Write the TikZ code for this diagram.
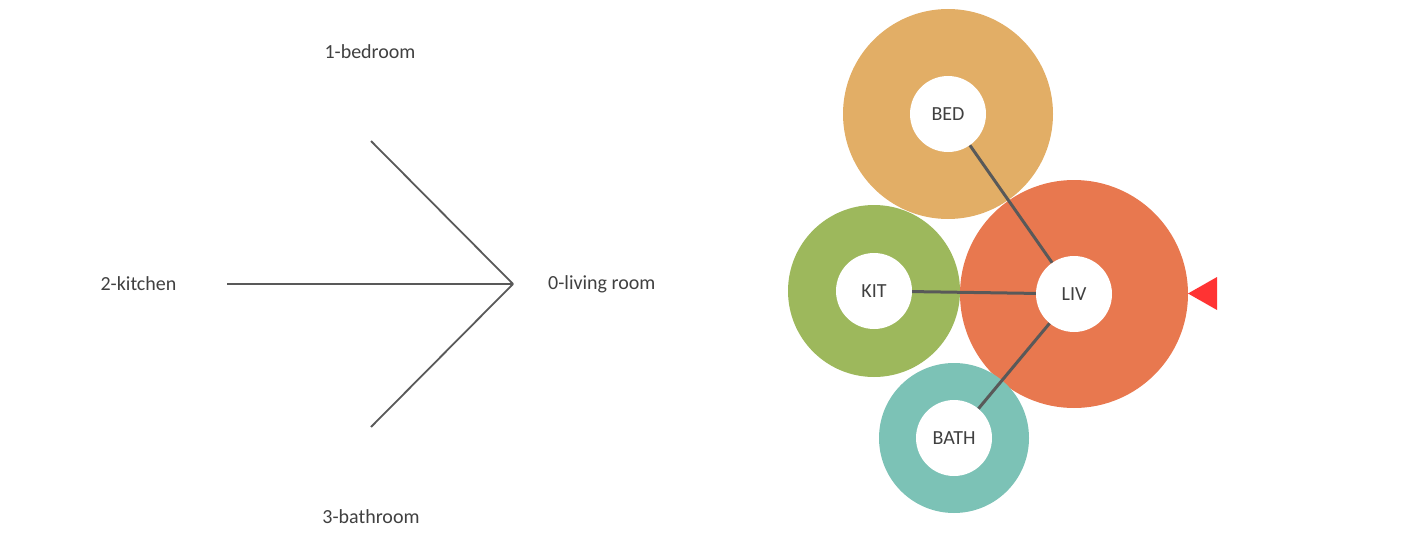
\documentclass[tikz,border=0pt]{standalone}
\usepackage{fontspec}
\setmainfont{Carlito}
\definecolor{bedc}{HTML}{E2AE66}
\definecolor{livc}{HTML}{E8784F}
\definecolor{kitc}{HTML}{9DB85C}
\definecolor{bathc}{HTML}{7CC2B6}
\definecolor{arrc}{HTML}{FF3333}
\definecolor{txtc}{HTML}{404040}
\definecolor{linec}{HTML}{595959}
\tikzset{
  lbl/.style={font=\fontsize{20}{24}\selectfont, text=txtc, inner sep=0pt},
  outerc/.style={circle, inner sep=0pt, draw=none},
  innerc/.style={circle, fill=white, draw=none, minimum size=76pt, inner sep=0pt, font=\fontsize{20}{24}\selectfont, text=txtc},
  leftline/.style={draw=linec, line width=1.8pt},
  rightline/.style={draw=linec, line width=3pt},
}
\begin{document}
\begin{tikzpicture}[x=1pt,y=-1pt]
\useasboundingbox (0,0) rectangle (1417,543);
% left diagram
\node[lbl] (bedroom) at (370,52) {1-bedroom};
\node[lbl] (kitchen) at (138.5,284) {2-kitchen};
\node[lbl, anchor=west] (living) at (548,284) {0-living room};
\node[lbl] (bathroom) at (371,517) {3-bathroom};
\coordinate (tip) at (513,284);
\coordinate (ltop) at (371,141);
\coordinate (lmid) at (227,284);
\coordinate (lbot) at (371,427);
\draw[leftline] (ltop) -- (tip);
\draw[leftline] (lmid) -- (tip);
\draw[leftline] (lbot) -- (tip);
% right diagram: outer circles
\node[outerc, fill=bedc, minimum size=210pt] (BEDo) at (948,114) {};
\node[outerc, fill=livc, minimum size=228pt] (LIVo) at (1074,294) {};
\node[outerc, fill=kitc, minimum size=172pt] (KITo) at (874,291) {};
\node[outerc, fill=bathc, minimum size=150pt] (BATHo) at (954,438) {};
% inner circles
\node[innerc] (BED) at (948,114) {BED};
\node[innerc] (LIV) at (1074,294) {LIV};
\node[innerc] (KIT) at (874,291) {KIT};
\node[innerc] (BATH) at (954,438) {BATH};
\draw[rightline] (BED) -- (LIV);
\draw[rightline] (KIT) -- (LIV);
\draw[rightline] (BATH) -- (LIV);
% entrance marker
\coordinate (etip) at (1188,293.5);
\coordinate (etop) at (1217,277);
\coordinate (ebot) at (1217,310);
\fill[arrc] (etip) -- (etop) -- (ebot) -- cycle;
\end{tikzpicture}
\end{document}
